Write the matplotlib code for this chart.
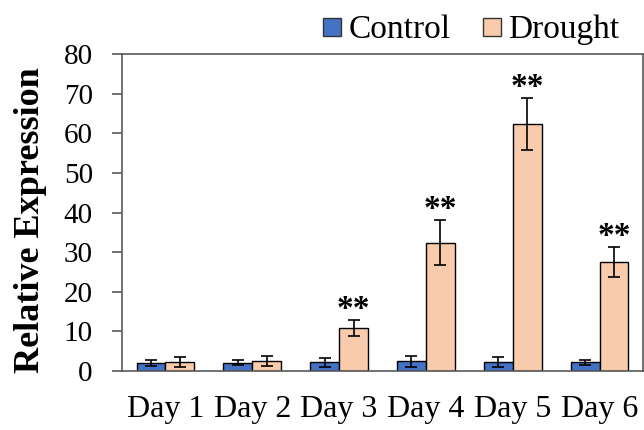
import matplotlib
matplotlib.use("Agg")
import matplotlib.pyplot as plt
from matplotlib.lines import Line2D
import numpy as np

days = ["Day 1", "Day 2", "Day 3", "Day 4", "Day 5", "Day 6"]
control = [2.0, 2.1, 2.2, 2.4, 2.2, 2.2]
control_err = [0.8, 0.6, 1.2, 1.4, 1.3, 0.7]
drought = [2.2, 2.5, 10.9, 32.4, 62.3, 27.5]
drought_err = [1.3, 1.3, 2.0, 5.6, 6.6, 3.8]
signif = ["", "", "**", "**", "**", "**"]

plt.rcParams['font.family'] = ['Liberation Serif', 'DejaVu Serif']

fig = plt.figure(figsize=(6.44, 4.30), dpi=100)
ax = fig.add_axes([122/644, 1-371/430, 521/644, 317/430])

x = np.arange(len(days))
w = 0.333
blue = '#4472C4'
peach = '#F8CBAD'
ekw = dict(elinewidth=1.2, capthick=1.2, ecolor='black')
ax.bar(x - w/2, control, w, color=blue, edgecolor='black', linewidth=1.0,
       yerr=control_err, capsize=4, error_kw=ekw, zorder=2)
ax.bar(x + w/2, drought, w, color=peach, edgecolor='black', linewidth=1.0,
       yerr=drought_err, capsize=4, error_kw=ekw, zorder=2)

for xi, v, e, s in zip(x, drought, drought_err, signif):
    if s:
        ax.annotate(s, (xi + w/2, v + e), xytext=(0, 1.5), textcoords='offset points',
                    ha='center', va='baseline', fontsize=24, fontweight='bold')

ax.set_xlim(-0.5, 5.5)
ax.set_ylim(0, 80)
ax.set_yticks(range(0, 81, 10))
ax.set_xticks(x)
ax.set_xticklabels(days)
ax.tick_params(axis='y', direction='out', length=7, width=1.2, color='#595959', labelsize=21, pad=14)
ax.tick_params(axis='x', length=0, labelsize=23, pad=17)
for sp in ax.spines.values():
    sp.set_color('#595959')
    sp.set_linewidth(1.2)
ax.set_ylabel("Relative Expression", fontsize=26, fontweight='bold')
ax.yaxis.set_label_coords((31-122)/521, (371-220.5)/317)
ax.yaxis.label.set_va('center')

handles = [Line2D([], [], marker='s', linestyle='none', markersize=12.5, markerfacecolor=blue,
                  markeredgecolor='#333333', markeredgewidth=1.0),
           Line2D([], [], marker='s', linestyle='none', markersize=12.5, markerfacecolor=peach,
                  markeredgecolor='#333333', markeredgewidth=1.0)]
fig.legend(handles, ["Control", "Drought"], loc='center', bbox_to_anchor=(469/644, 1-30/430),
           ncol=2, frameon=False, fontsize=24, handletextpad=0.1, columnspacing=0.83,
           handlelength=0.8, borderaxespad=0, borderpad=0)

fig.savefig("out.png", dpi=100)
